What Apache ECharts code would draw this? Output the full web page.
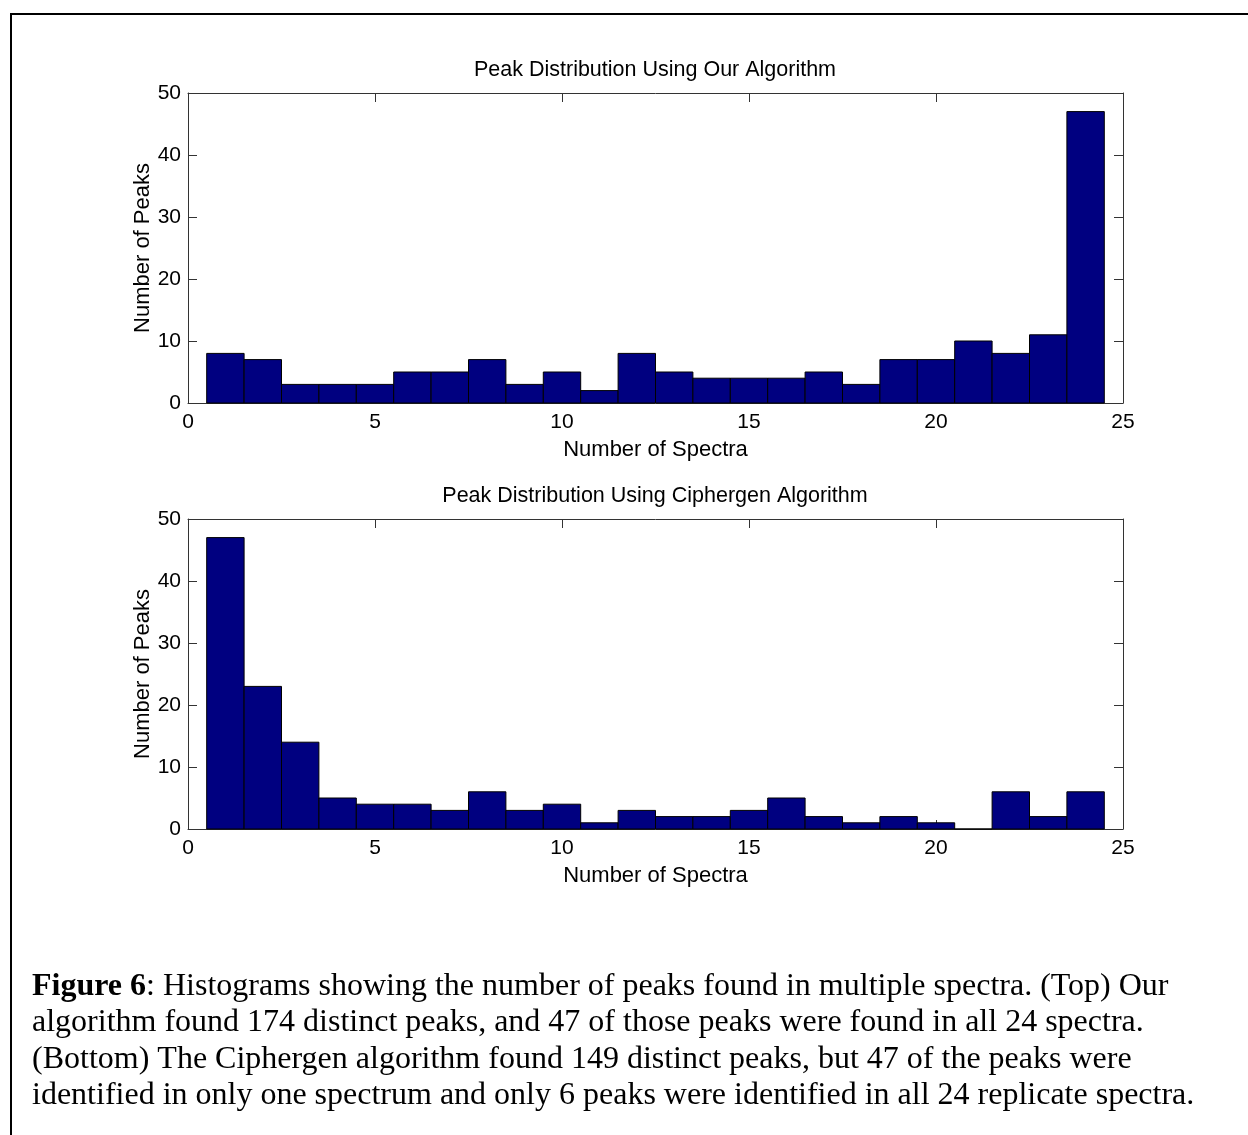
<!DOCTYPE html>
<html>
<head>
<meta charset="utf-8">
<script src="https://cdn.jsdelivr.net/npm/echarts@6/dist/echarts.min.js"></script>
<style>
html,body{margin:0;padding:0;background:#fff;}
#chart{width:1248px;height:1135px;}
</style>
</head>
<body>
<div id="chart"></div>
<script>
// ---- data ----
const bins = [1,2,3,4,5,6,7,8,9,10,11,12,13,14,15,16,17,18,19,20,21,22,23,24];
const ourPeaks = [8,7,3,3,3,5,5,7,3,5,2,8,5,4,4,4,5,3,7,7,10,8,11,47];
const ciphergenPeaks = [47,23,14,5,4,4,3,6,3,4,1,3,2,2,3,5,2,1,2,1,0,6,2,6];
const xTicks = [0,5,10,15,20,25];
const yTicks = [0,10,20,30,40,50];
const titles = ['Peak Distribution Using Our Algorithm', 'Peak Distribution Using Ciphergen Algorithm'];
const xName = 'Number of Spectra';
const yName = 'Number of Peaks';
const captionLines = [
  [{b:'Figure 6'}, {t:': Histograms showing the number of peaks found in multiple spectra. (Top) Our'}],
  [{t:'algorithm found 174 distinct peaks, and 47 of those peaks were found in all 24 spectra.'}],
  [{t:'(Bottom) The Ciphergen algorithm found 149 distinct peaks, but 47 of the peaks were'}],
  [{t:'identified in only one spectrum and only 6 peaks were identified in all 24 replicate spectra.'}]
];

const SANS = '"Liberation Sans", Arial, sans-serif';
const SERIF = '"Liberation Serif", "Times New Roman", serif';
const chart = echarts.init(document.getElementById('chart'), null, {renderer:'canvas'});

const gridTops = [93, 519];
const plotH = 310;
const grids = gridTops.map(t => ({left:188, right:125, top:t, height:plotH, containLabel:false}));

function mkX(gi, pos, show) {
  return {
    type:'value', gridIndex:gi, position:pos, min:xTicks[0], max:xTicks[xTicks.length-1], interval:xTicks[1]-xTicks[0],
    name: show ? xName : '', nameLocation:'middle', nameGap:36, nameMoveOverlap:false,
    nameTextStyle:{fontFamily:SANS, fontSize:22, color:'#000'},
    axisLine:{show:true, onZero:false, lineStyle:{color:'#333', width:1}},
    axisTick:{show:true, inside:true, length:9, lineStyle:{color:'#333'}},
    axisLabel:{show:show, fontFamily:SANS, fontSize:21, color:'#000', margin:9},
    splitLine:{show:false}
  };
}
function mkY(gi, pos, show) {
  return {
    type:'value', gridIndex:gi, position:pos, min:yTicks[0], max:yTicks[yTicks.length-1], interval:yTicks[1]-yTicks[0],
    name: show ? yName : '', nameLocation:'middle', nameGap:34, nameMoveOverlap:false,
    nameTextStyle:{fontFamily:SANS, fontSize:22, color:'#000'},
    axisLine:{show:true, onZero:false, lineStyle:{color:'#333', width:1}},
    axisTick:{show:true, inside:true, length:9, lineStyle:{color:'#333'}},
    axisLabel:{show:show, fontFamily:SANS, fontSize:21, color:'#000', margin:7},
    splitLine:{show:false}
  };
}

const xAxes = [mkX(0,'bottom',true), mkX(0,'top',false), mkX(1,'bottom',true), mkX(1,'top',false)];
const yAxes = [mkY(0,'left',true), mkY(0,'right',false), mkY(1,'left',true), mkY(1,'right',false)];

function renderBin(params, api) {
  const c = api.value(0), v = api.value(1);
  const p0 = api.coord([c - 0.5, 0]);
  const p1 = api.coord([c + 0.5, v]);
  return {
    type:'rect',
    shape:{x:p0[0], y:p1[1], width:p1[0]-p0[0], height:p0[1]-p1[1]},
    style:{fill:'#000080', stroke:'#000', lineWidth:1}
  };
}

const series = [ourPeaks, ciphergenPeaks].map((vals, gi) => ({
  type:'custom', xAxisIndex: gi*2, yAxisIndex: gi*2,
  renderItem: renderBin, silent:true,
  data: bins.map((b,i) => [b, vals[i]])
}));

// caption
const captionGraphics = [];
const lineYs = [987, 1023, 1060, 1096];
captionLines.forEach((parts, li) => {
  let text = parts.map(p => p.b ? '{b|' + p.b + '}' : '{n|' + p.t + '}').join('');
  captionGraphics.push({
    type:'text', x:32, y: lineYs[li], silent:true,
    style:{
      text: text, fill:'#000', verticalAlign:'middle', align:'left',
      font: '32px ' + SERIF,
      rich:{
        b:{fontFamily:SERIF, fontSize:32, fontWeight:'bold', fill:'#000'},
        n:{fontFamily:SERIF, fontSize:32, fill:'#000'}
      }
    }
  });
});

const titleGraphics = titles.map((t, i) => ({
  type:'text', x:655, y: gridTops[i] - 23, silent:true,
  style:{text:t, align:'center', verticalAlign:'middle', font:'21.5px ' + SANS, fill:'#000'}
}));

chart.setOption({
  animation:false,
  backgroundColor:'#fff',
  grid: grids,
  xAxis: xAxes,
  yAxis: yAxes,
  series: series,
  graphic: [
    {type:'rect', x:11, y:14, silent:true, z:-1,
     shape:{x:0, y:0, width:1300, height:1200},
     style:{fill:'none', stroke:'#000', lineWidth:2}}
  ].concat(titleGraphics, captionGraphics)
});
</script>
</body>
</html>
